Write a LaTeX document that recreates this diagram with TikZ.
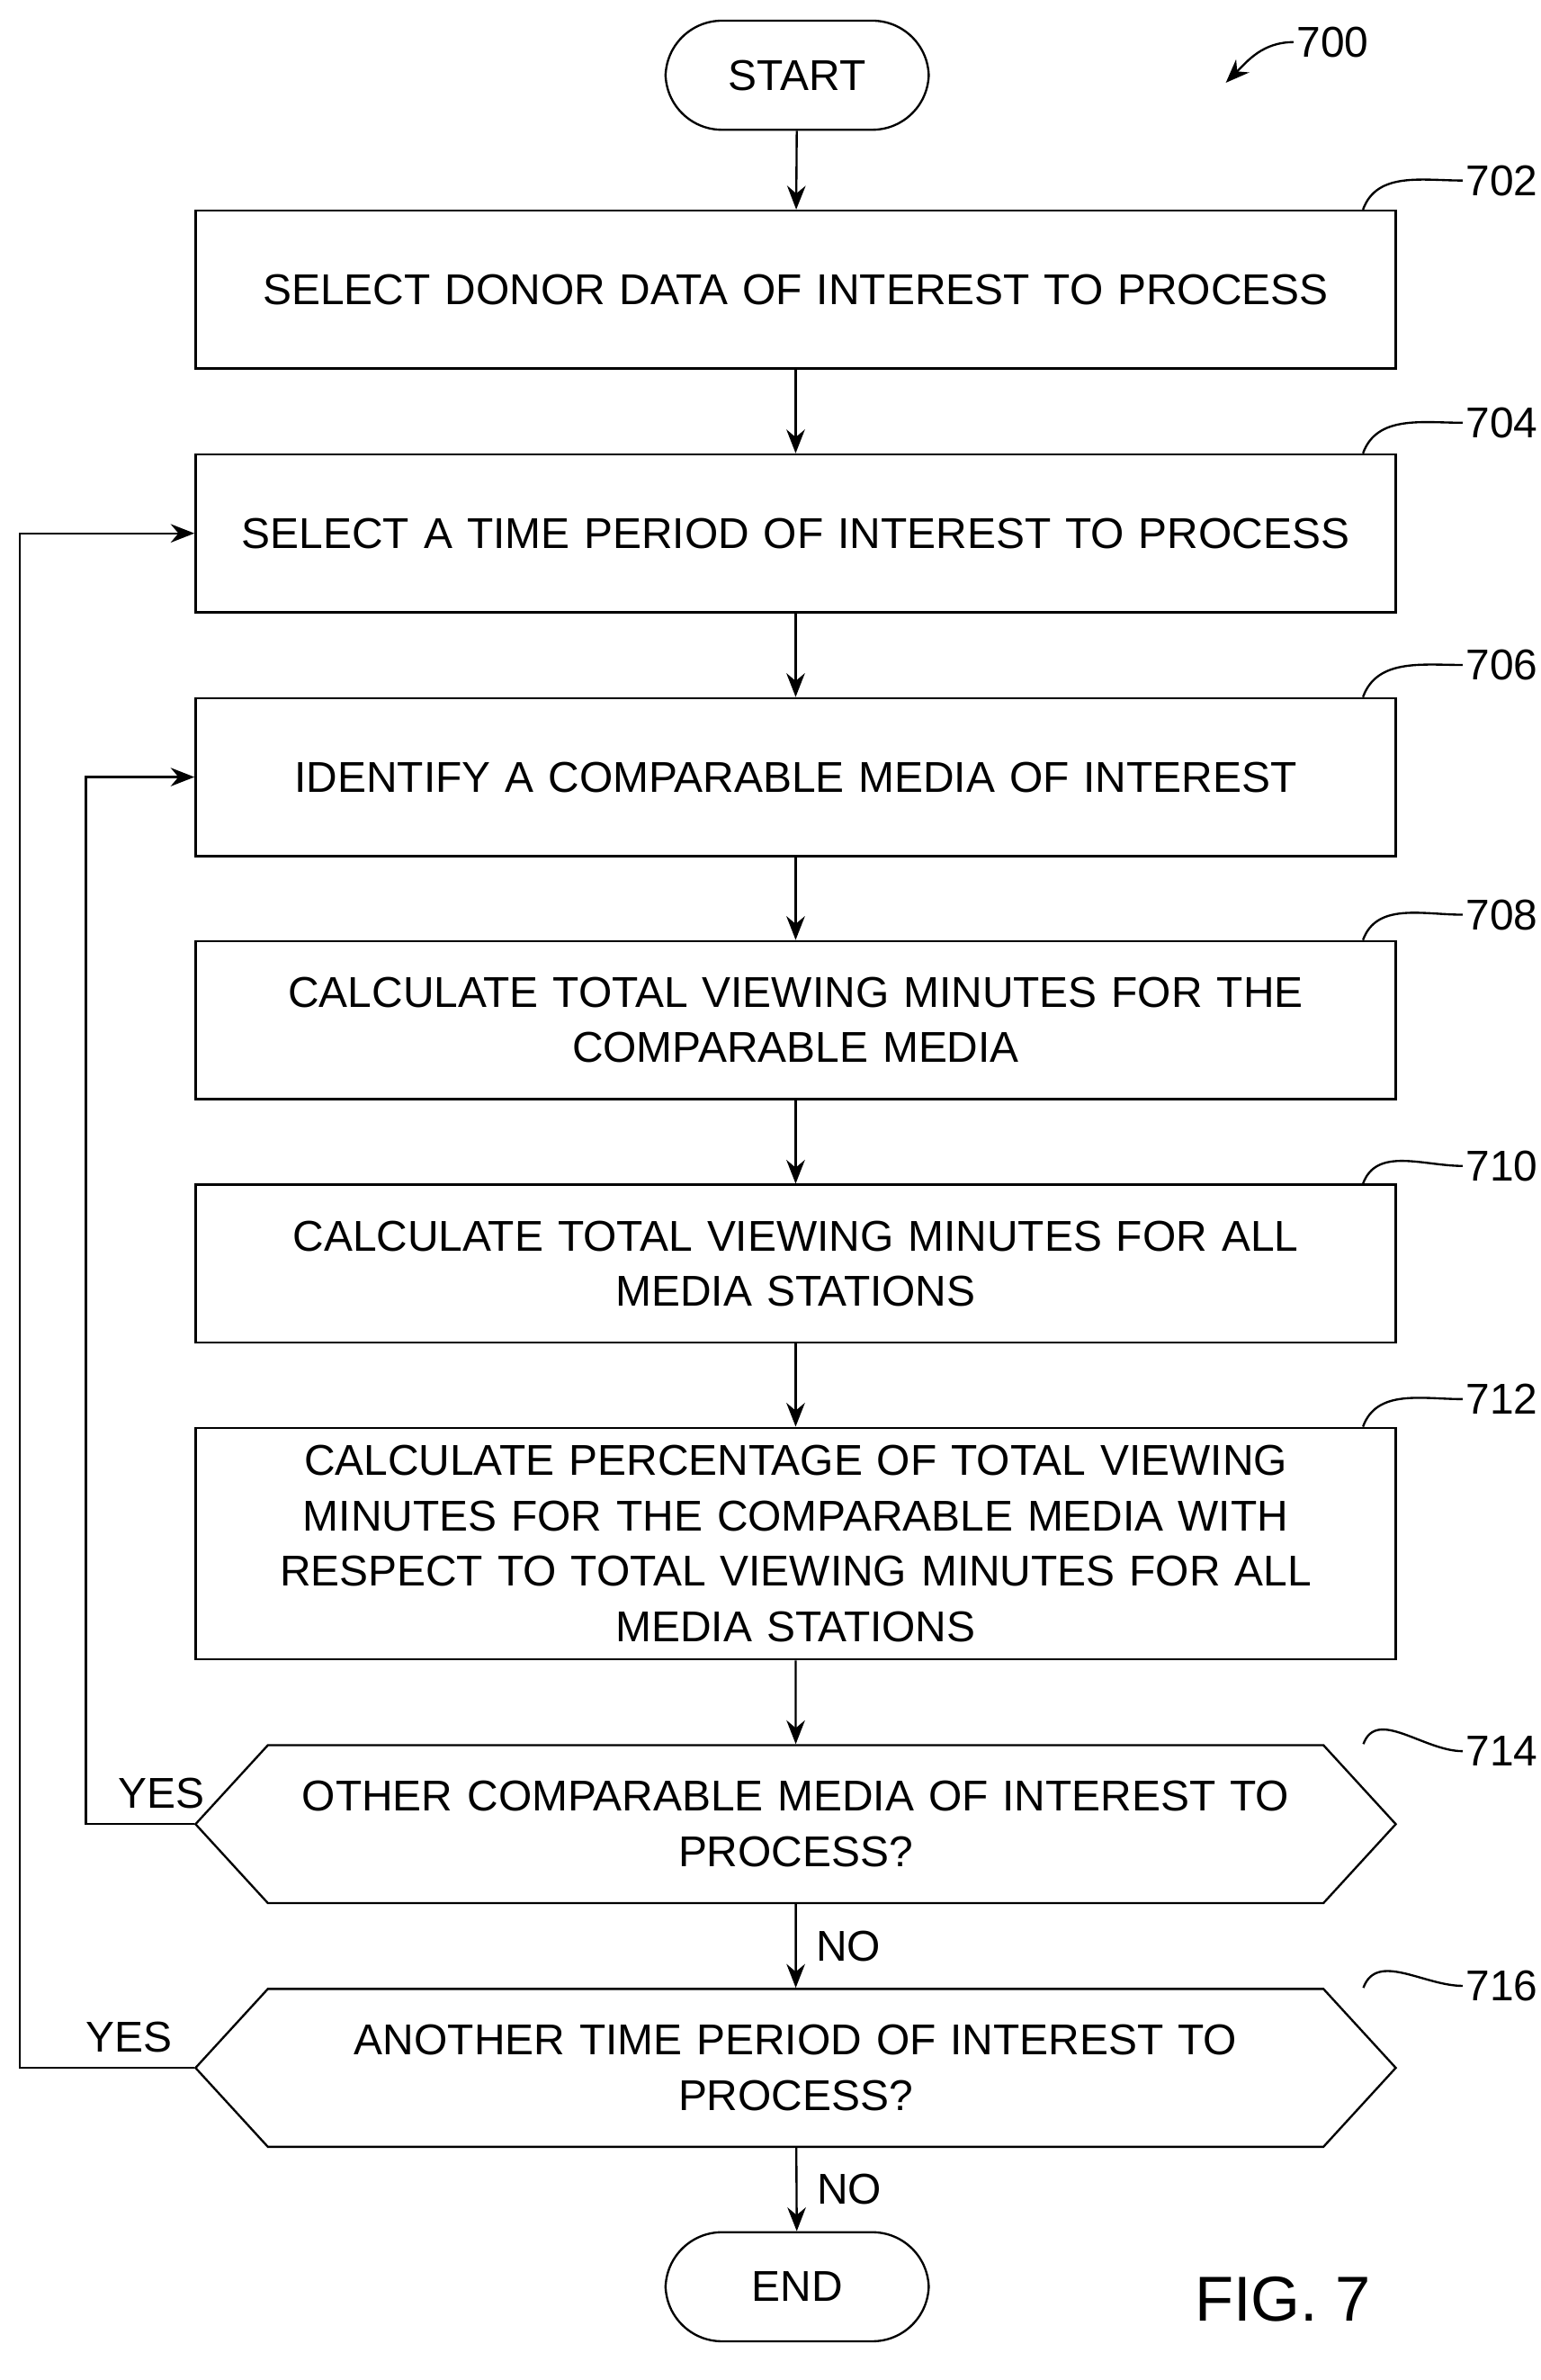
\documentclass[tikz,border=0pt]{standalone}
\usepackage{fontspec}
\setmainfont{Liberation Sans}
\usepackage{tikz}
\usetikzlibrary{calc,positioning,arrows,arrows.meta,shapes}
\tikzstyle{startend} = [rectangle, rounded corners=0.75cm, minimum width=3.5cm, minimum height=1.45cm, text centered, draw=black, thick]
\tikzstyle{process}  = [rectangle, minimum width=15.96cm, minimum height=2.1cm, text width=15.4cm, align=center, draw=black, thick]
\tikzstyle{decision} = [signal, signal to=east and west, signal pointer angle=95, minimum width=15.96cm, minimum height=2.1cm, text width=13.8cm, align=center, draw=black, thick, inner xsep=0pt]
\tikzstyle{arrow}    = [thick,-{Stealth[length=9pt,width=7pt]}]
\tikzstyle{refnum}   = [anchor=west, inner sep=1pt]

\begin{document}
\begin{tikzpicture}[font=\fontsize{16.3}{21}\selectfont]
		\useasboundingbox (0,0) rectangle (20.48,-31.64);
		\node (start) [startend] at (10.6,-1.0) {START};
		\node (select)  [process] at (10.58,-3.85) {SELECT DONOR DATA OF INTEREST TO PROCESS};
		\node (period)  [process] at (10.58,-7.09) {SELECT A TIME PERIOD OF INTEREST TO PROCESS};
		\node (media)   [process] at (10.58,-10.33) {IDENTIFY A COMPARABLE MEDIA OF INTEREST};
		\node (mediamin) [process] at (10.58,-13.56) {CALCULATE TOTAL VIEWING MINUTES FOR THE\\COMPARABLE MEDIA};
		\node (allmin)  [process] at (10.58,-16.8) {CALCULATE TOTAL VIEWING MINUTES FOR ALL\\MEDIA STATIONS};
		\node (percent) [process, minimum height=3.08cm] at (10.58,-20.52) {CALCULATE PERCENTAGE OF TOTAL VIEWING\\MINUTES FOR THE COMPARABLE MEDIA WITH\\RESPECT TO TOTAL VIEWING MINUTES FOR ALL\\MEDIA STATIONS};
		\node (othermedia) [decision] at (10.58,-24.25) {OTHER COMPARABLE MEDIA OF INTEREST TO\\PROCESS?};
		\node (otherperiod) [decision] at (10.58,-27.49) {ANOTHER TIME PERIOD OF INTEREST TO\\PROCESS?};
		\node (end) [startend] at (10.6,-30.4) {END};

		\draw [arrow] (start) -- (select);
		\draw [arrow] (select) -- (period);
		\draw [arrow] (period) -- (media);
		\draw [arrow] (media) -- (mediamin);
		\draw [arrow] (mediamin) -- (allmin);
		\draw [arrow] (allmin) -- (percent);
		\draw [arrow] (percent) -- (othermedia);
		\draw [arrow] (othermedia) -- node[anchor=west, xshift=4pt] {NO} (otherperiod);
		\draw [arrow] (otherperiod) -- node[anchor=west, xshift=4pt] {NO} (end);
		\draw [arrow] (othermedia.west) -- node[above, near start, xshift=-2pt, yshift=2pt] {YES} ++(-1.44,0) |- (media.west);
		\draw [arrow] (otherperiod.west) -- node[above, near start, xshift=-8pt, yshift=2pt] {YES} ++(-2.32,0) |- (period.west);

		% reference numerals
		\node (n700) [refnum] at (17.2,-0.56) {700};
		\draw [arrow] (n700.west) to[out=180,in=45] (16.3,-1.1);
		\foreach \nd/\num/\ny in {select/702/-2.4, period/704/-5.62, media/706/-8.84, mediamin/708/-12.16, allmin/710/-15.5, percent/712/-18.6, othermedia/714/-23.28, otherperiod/716/-26.4}{
			\node (n\num) [refnum] at (19.45,\ny) {\num};
			\draw [thick] ($(\nd.north -| \nd.east)+(-0.45,0)$) to[out=70,in=180] (n\num.west);
		}
		\node (fig) at (17.06,-30.56) {\fontsize{24}{28}\selectfont FIG. 7};
\end{tikzpicture}
\end{document}
